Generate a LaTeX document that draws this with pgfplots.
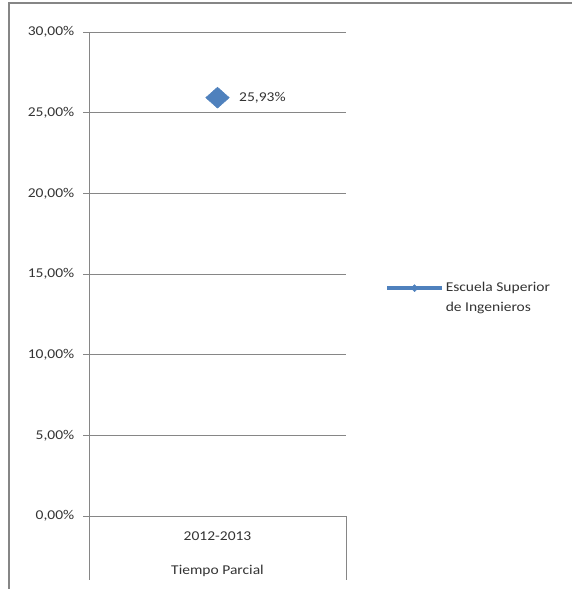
\documentclass[border=0pt]{standalone}
\usepackage{pgfplots}
\pgfplotsset{compat=1.18}
\usepackage{fontspec}
\setmainfont{Carlito}[FakeStretch=1.15]
\definecolor{exblue}{HTML}{4F81BD}
\definecolor{exgrid}{HTML}{868686}
\definecolor{extext}{HTML}{333333}
\begin{document}
\fontsize{13.5bp}{20bp}\selectfont
\begin{tikzpicture}
\useasboundingbox (0,0) rectangle (572bp,589bp);
% outer frame (only top and left survive the crop)
\draw[exgrid, line width=1.8bp] (9bp,0) -- (9bp,586bp) -- (572bp,586bp);
\begin{axis}[
  at={(89bp,73bp)}, anchor=south west,
  scale only axis, width=257bp, height=484bp,
  xmin=-0.5, xmax=0.5, ymin=0, ymax=30,
  clip=false,
  axis lines*=left,
  axis line style={exgrid, line width=0.9bp},
  ytick={0,5,...,30},
  yticklabels={{0,00\%},{5,00\%},{10,00\%},{15,00\%},{20,00\%},{25,00\%},{30,00\%}},
  tick align=outside,
  major tick length=6bp,
  y tick style={exgrid, line width=0.9bp},
  ymajorgrids,
  grid style={exgrid, line width=0.9bp},
  yticklabel style={text=extext, xshift=-4bp},
  xtick={0},
  xticklabels={{2012-2013\\[14bp]Tiempo Parcial}},
  xticklabel style={align=center, text=extext, yshift=-5bp},
  x tick style={draw=none},
  legend style={at={(1.152,0.45)}, anchor=west, draw=none, fill=none,
    inner sep=0pt, cells={align=left}, text=extext},
]
\addplot[only marks, color=exblue, mark=diamond*,
  mark size=10.5bp, mark options={xscale=1.5, fill=exblue, draw=exblue},
  nodes near coords={25,93\%},
  every node near coord/.append style={anchor=west, xshift=17bp, text=extext},
  legend image code/.code={
    \draw[exblue, line width=3.5bp] (0bp,10bp) -- (55bp,10bp);
    \fill[exblue] (27.5bp,13.5bp) -- (31bp,10bp) -- (27.5bp,6.5bp) -- (24bp,10bp) -- cycle;
  }]
  coordinates {(0,25.93)};
\addlegendentry{Escuela Superior\\de Ingenieros}
% category-axis dividers below the plot area
\draw[exgrid, line width=0.9bp] (rel axis cs:0,0) -- ([yshift=-64bp]rel axis cs:0,0);
\draw[exgrid, line width=0.9bp] (rel axis cs:1,0) -- ([yshift=-64bp]rel axis cs:1,0);
\end{axis}
\end{tikzpicture}
\end{document}
